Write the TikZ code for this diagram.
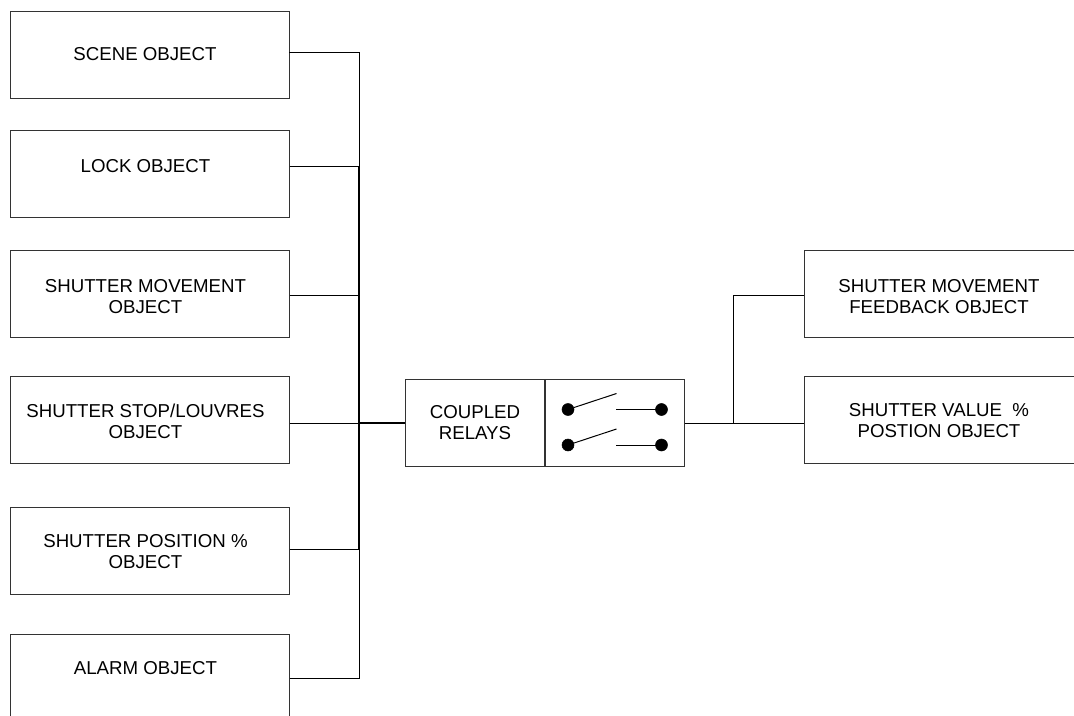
\documentclass[tikz,border=0pt]{standalone}
\usepackage{fontspec}
\setmainfont{Liberation Sans}
\tikzset{
	objbox/.style={draw=black!80, line width=0.75pt, rectangle, minimum width=209.25pt, minimum height=65.25pt, inner sep=0pt, outer sep=0pt},
	halfbox/.style={draw=black!80, line width=0.75pt, rectangle, minimum width=104.6pt, minimum height=65.25pt, inner sep=0pt, outer sep=0pt},
	objtext/.style={align=center, inner sep=0pt, font=\fontsize{14}{15.75}\selectfont, xshift=-3.4pt},
	oneline/.style={objtext, yshift=5.6pt},
	twoline/.style={objtext, yshift=-1pt},
	contact/.style={draw, circle, fill=black, minimum size=9pt, inner sep=0pt, outer sep=0pt},
	wire/.style={line width=0.75pt},
	buswire/.style={line width=1.5pt}
}
\begin{document}
\begin{tikzpicture}[x=0.75pt, y=-0.75pt]
	\clip (0,0) rectangle (1074,715);
	\node[objbox, label={[objtext, yshift=0.4pt]center:{SCENE OBJECT}}] (scene)at(149.5, 54.5) {};
	\node[objbox, label={[oneline]center:{LOCK OBJECT}}] (lock)at(150, 173.5) {};
	\node[objbox, label={[twoline, yshift=-1pt]center:{SHUTTER MOVEMENT\\OBJECT}}] (movement)at(150, 293.5) {};
	\node[objbox, label={[twoline]center:{SHUTTER STOP/LOUVRES\\OBJECT}}] (stop)at(150, 419.5) {};
	\node[objbox, label={[twoline]center:{SHUTTER POSITION \%\\OBJECT}}] (position)at(150, 550.5) {};
	\node[objbox, label={[oneline, yshift=1.5pt]center:{ALARM OBJECT}}] (alarm)at(150, 677.5) {};
	\node[halfbox, label={[objtext, xshift=3.4pt]center:{COUPLED\\RELAYS}}] (relays)at(475, 422.5) {};
	\node[halfbox] (switch)at(614.8, 422.5) {};
	\node[objbox, label={[twoline, yshift=-0.7pt]center:{SHUTTER MOVEMENT\\FEEDBACK OBJECT}}] (feedback)at(943.5, 294) {};
	\node[objbox, label={[twoline]center:{SHUTTER VALUE~~\%\\POSTION OBJECT}}] (value)at(943.5, 419.5) {};
	\node[contact] (c1)at(568, 409.5) {};
	\node[contact] (c2)at(661.5, 409.5) {};
	\node[contact] (c3)at(568, 445) {};
	\node[contact] (c4)at(661.5, 445) {};
	\coordinate (blade1)at(616.5, 393.5);
	\coordinate (blade2)at(616.5, 429);
	\coordinate (fixed1)at(616, 409.5);
	\coordinate (fixed2)at(616, 445);
	\coordinate (bus1)at(359, 52.3);
	\coordinate (bus2)at(359, 166);
	\coordinate (bus3)at(359, 295);
	\coordinate (bus4)at(359, 423);
	\coordinate (bus5)at(359, 549);
	\coordinate (bus6)at(359, 678.7);
	\coordinate (tap)at(733, 423);
	\coordinate (tapup)at(733, 295);
	\draw[wire] (c1) -- (blade1);
	\draw[wire] (c3) -- (blade2);
	\draw[wire] (fixed1) -- (c2);
	\draw[wire] (fixed2) -- (c4);
	\draw[wire] (scene.east |- bus1) -- (bus1) -- (bus2);
	\draw[wire] (lock.east |- bus2) -- (bus2);
	\draw[wire] (movement.east |- bus3) -- (bus3);
	\draw[wire] (stop.east |- bus4) -- (bus4);
	\draw[wire] (position.east |- bus5) -- (bus5);
	\draw[wire] (alarm.east |- bus6) -- (bus6) -- (bus5);
	\draw[buswire] (bus2) -- (bus5);
	\draw[buswire] (bus4) -- (relays.west |- bus4);
	\draw[wire] (switch.east |- tap) -- (tap);
	\draw[wire] (tap) -- (value.west |- tap);
	\draw[wire] (tap) -- (tapup) -- (feedback.west |- tapup);
\end{tikzpicture}
\end{document}
